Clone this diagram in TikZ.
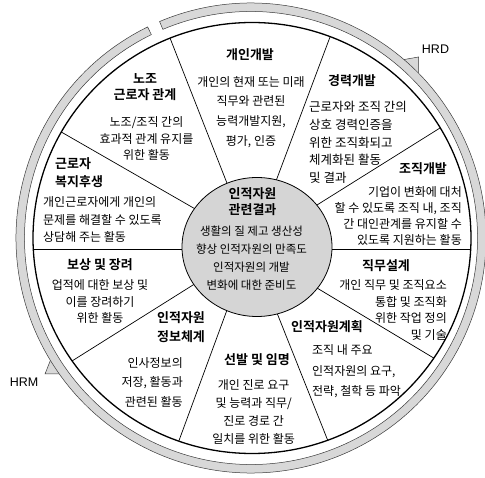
\documentclass[tikz,border=0pt]{standalone}
\usepackage{fontspec}
\setmainfont{Noto Sans CJK KR}[BoldFont={Noto Sans CJK KR Bold}]
\newfontfamily\latf{Liberation Sans}
\usetikzlibrary{calc}
\definecolor{bandgray}{HTML}{D8D8D8}
\definecolor{centgray}{HTML}{D5D5D5}
\definecolor{edge}{HTML}{3A3A3A}
\tikzset{
  bd/.style n args={2}{font=\fontsize{#1}{#2}\selectfont, inner sep=0pt, align=center, anchor=base},
  hd/.style n args={2}{font=\fontsize{#1}{#2}\selectfont\bfseries, inner sep=0pt, align=center, anchor=base},
  lab/.style={font=\latf\fontsize{12.5}{14}\selectfont, inner sep=0pt, anchor=base},
  sect/.style={line width=0.7pt},
  bandsty/.style={fill=bandgray, draw=edge, line width=0.5pt},
}
\begin{document}
\begin{tikzpicture}[x=1pt,y=1pt]
\useasboundingbox (0,0) rectangle (485,-478);
\coordinate (C) at (252,-238);
\coordinate (B) at (251,-238);
% pointer triangles
\filldraw[bandsty] (418.5,-57) -- (398,-60.6) -- (418.5,-80) -- cycle;
\filldraw[bandsty] (45,-374) -- (52.5,-355) -- (64,-374) -- cycle;
% outer band
\filldraw[bandsty] ($(B)+(116.1:235)$) arc[start angle=116.1, end angle=472.9, radius=235]
  -- ($(B)+(472.9:226.5)$) arc[start angle=472.9, end angle=116.1, radius=226.5] -- cycle;
% sector lines
\coordinate (i1) at (223,-173);  \coordinate (o1) at (170,-38);
\coordinate (i2) at (279,-173);  \coordinate (o2) at (330,-37);
\coordinate (i3) at (317,-205);  \coordinate (o3) at (440,-128);
\coordinate (i4) at (330,-249.5);\coordinate (o4) at (472,-249.5);
\coordinate (i5) at (312,-285);  \coordinate (o5) at (437,-360);
\coordinate (i6) at (277,-313);  \coordinate (o6) at (330,-446);
\coordinate (i7) at (227,-310);  \coordinate (o7) at (177,-446);
\coordinate (i8) at (193,-285);  \coordinate (o8) at (72,-361);
\coordinate (i9) at (183,-249.5);\coordinate (o9) at (33,-249.5);
\coordinate (i10) at (197,-210); \coordinate (o10) at (63,-133);
\begin{scope}
\clip (C) ellipse [x radius=219, y radius=215.5];
\foreach \k in {1,...,10} \draw[sect] ($(i\k)!-0.3!(o\k)$) -- ($(i\k)!1.1!(o\k)$);
\end{scope}
\draw[line width=1.3pt] (C) ellipse [x radius=219, y radius=215.5];
% centre
\filldraw[fill=centgray, draw=black, line width=0.8pt] (257,-247) ellipse [x radius=75, y radius=69.5];
% labels
\node[lab] (hrd) at (435.5,-53.5) {HRD};
\node[lab] (hrm) at (24,-386.5) {HRM};
% texts (base anchor = baseline of last line)
\node[hd={13}{16.5}] (h1) at (250,-60) {개인개발};
\node[bd={12}{19.8}] (b1) at (251,-145.5) {개인의 현재 또는 미래\\직무와 관련된\\능력개발지원,\\평가, 인증};
\node[hd={13}{16.5}] (h2) at (352,-86) {경력개발};
\node[bd={12.5}{17.8}, align=left, anchor=base west] (b2) at (309,-182.8) {근로자와 조직 간의\\상호 경력인증을\\위한 조직화되고\\체계화된 활동\\및 결과};
\node[hd={13}{16.5}] (h3) at (423,-174) {조직개발};
\node[bd={12}{15.8}, align=right, anchor=base east] (b3) at (462,-244.4) {기업이 변화에 대처\\할 수 있도록 조직 내, 조직\\간 대인관계를 유지할 수\\있도록 지원하는 활동};
\node[hd={13}{16.5}] (h4) at (386,-270.5) {직무설계};
\node[bd={12}{16.7}, align=right, anchor=base east] (b4) at (447,-339.7) {개인 직무 및 조직요소\\통합 및 조직화\\위한 작업 정의\\및 기술};
\node[hd={13}{16.5}] (h5) at (327,-331.5) {인적자원계획};
\node[bd={12}{20.5}, align=left, anchor=base west] (b5) at (312,-395.6) {조직 내 주요\\인적자원의 요구,\\전략, 철학 등 파악};
\node[hd={13}{16.5}] (h6) at (257,-365) {선발 및 임명};
\node[bd={12}{18}] (b6) at (253.7,-443.6) {개인 진로 요구\\및 능력과 직무/\\진로 경로 간\\일치를 위한 활동};
\node[hd={13}{18.5}] (h7) at (181,-341.5) {인적자원\\정보체계};
\node[bd={12}{19.3}, align=right, anchor=base east] (b7) at (183,-406.2) {인사정보의\\저장, 활동과\\관련된 활동};
\node[hd={13}{16.5}] (h8) at (100,-269.5) {보상 및 장려};
\node[bd={12}{16.5}] (b8) at (100,-322.6) {업적에 대한 보상 및\\이를 장려하기\\위한 활동};
\node[hd={13}{18}, align=left, anchor=base west] (h9) at (55,-186.5) {근로자\\복지후생};
\node[bd={12}{17.5}, align=left, anchor=base west] (b9) at (43,-241.6) {개인근로자에게 개인의\\문제를 해결할 수 있도록\\상담해 주는 활동};
\node[hd={13}{16.5}] (h10) at (145,-100) {노조\\근로자 관계};
\node[bd={12}{16.5}] (b10) at (146.5,-159.6) {노조/조직 간의\\효과적 관계 유지를\\위한 활동};
\node[hd={13}{16.5}] (hc) at (252.5,-215) {인적자원\\관련결과};
\node[bd={11.5}{18}] (bc) at (251.5,-289.6) {생활의 질 제고 생산성\\향상 인적자원의 만족도\\인적자원의 개발\\변화에 대한 준비도};
\end{tikzpicture}
\end{document}
